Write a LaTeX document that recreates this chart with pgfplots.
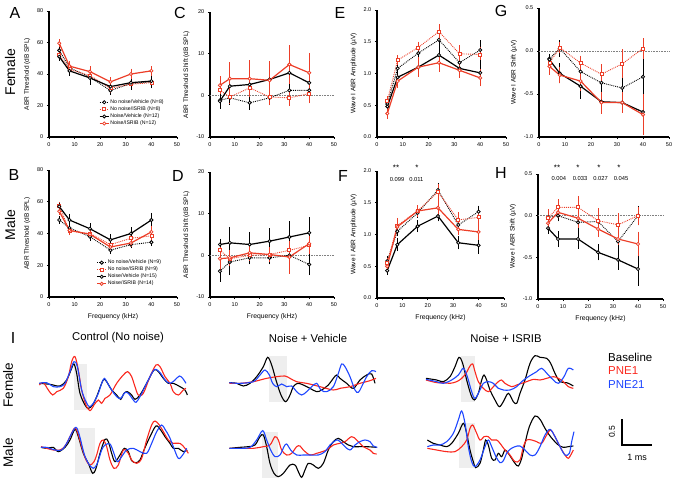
\documentclass[border=0pt]{standalone}
\usepackage{pgfplots}
\pgfplotsset{compat=1.18}
\usepackage{pgfplotstable}
\usepackage{fontspec}
\setmainfont{Liberation Sans}
\definecolor{cr}{RGB}{236,62,40}
\definecolor{tred}{RGB}{250,40,30}
\definecolor{tblue}{RGB}{30,70,255}

% columns: a = No noise/Vehicle, b = No noise/ISRIB, c = Noise/Vehicle, d = Noise/ISRIB (mean, SEM)
\pgfplotstableread{
f a ae b be c ce d de
4 55 2 52 2 51 1.5 59.5 1.5
8 44 2 43 2 42 2 45 2.5
16 38 2.5 39 2.5 37.5 3.5 41.5 2.5
24 29.5 2 31 2 32 2.5 35 2
32 34 3 33.5 2.5 34.5 3.5 40 2.5
40 35 3 34.5 2.5 35.5 3.5 42 2
}\tA
\pgfplotstableread{
f a ae b be c ce d de
4 48.5 1.5 57.5 1.5 57 1.5 54 1.5
8 43.5 1.5 41.5 1.5 48.5 3 42 1.5
16 38 1.5 40 1.5 43 2.5 39.5 1.5
24 29.5 1.5 33 1.5 36 2.5 31.5 1.5
32 33 1.5 37 2 40 3 34 1.5
40 34.5 1.5 38.5 2.5 48.5 3.5 41 3
}\tB
\pgfplotstableread{
f a ae b be c ce d de
4 -1.2 1.5 1.2 1.5 -1.4 1.5 2.4 1.8
8 -0.6 1.3 -0.4 1.3 2.2 3.8 4.0 3.6
16 -1.8 1.3 1.8 2.0 2.6 3.0 4.0 4.0
24 -0.6 1.4 -0.4 1.5 3.8 3.0 3.6 4.2
32 1.2 1.5 -0.6 1.5 5.4 3.0 7.4 4.3
40 1.2 1.3 0.4 2.0 3.0 2.5 5.4 4.4
}\tC
\pgfplotstableread{
f a ae b be c ce d de
4 -3.8 2.2 1.2 1.5 2.6 1.0 -0.8 2.5
8 -1.6 2.8 -0.8 1.5 3.0 3.5 -0.6 1.5
16 -0.6 1.2 0 1.0 2.6 2.7 0.6 1.4
24 -0.6 1.2 0.2 1.4 3.4 2.7 0.2 1.4
32 0.0 1.6 1.2 1.5 4.4 3.4 -0.4 3.6
40 -2.2 2.2 2.4 1.6 5.4 3.4 2.8 1.6
}\tD
\pgfplotstableread{
f a ae b be c ce d de
4 0.52 0.05 0.57 0.05 0.48 0.04 0.37 0.06
8 1.08 0.08 1.21 0.05 0.94 0.07 0.88 0.08
16 1.32 0.08 1.41 0.07 1.10 0.12 1.10 0.13
24 1.53 0.10 1.66 0.09 1.29 0.12 1.17 0.12
32 1.17 0.07 1.31 0.11 1.08 0.08 1.05 0.09
40 1.37 0.13 1.30 0.10 1.01 0.18 0.93 0.11
}\tE
\pgfplotstableread{
f a ae b be c ce d de
4 0.58 0.05 0.55 0.05 0.43 0.04 0.50 0.05
8 1.05 0.05 1.14 0.10 0.84 0.08 1.12 0.07
16 1.34 0.05 1.37 0.06 1.13 0.07 1.37 0.07
24 1.70 0.09 1.67 0.10 1.29 0.06 1.42 0.12
32 1.15 0.07 1.23 0.10 0.87 0.08 1.08 0.07
40 1.36 0.07 1.27 0.10 0.83 0.11 1.04 0.10
}\tF
\pgfplotstableread{
f a ae b be c ce d de
4 -0.09 0.04 -0.14 0.06 -0.10 0.04 -0.18 0.08
8 0.03 0.08 0.04 0.05 -0.26 0.10 -0.28 0.08
16 -0.24 0.10 -0.14 0.07 -0.41 0.13 -0.35 0.10
24 -0.37 0.10 -0.27 0.10 -0.59 0.12 -0.60 0.11
32 -0.43 0.15 -0.15 0.15 -0.60 0.09 -0.60 0.10
40 -0.30 0.20 0.03 0.10 -0.71 0.20 -0.74 0.22
}\tG
\pgfplotstableread{
f a ae b be c ce d de
4 -0.02 0.04 -0.03 0.09 -0.15 0.05 -0.09 0.06
8 0.00 0.05 0.10 0.08 -0.28 0.08 0.04 0.05
16 -0.08 0.10 0.10 0.12 -0.28 0.10 -0.03 0.10
24 -0.07 0.10 -0.06 0.13 -0.44 0.08 -0.16 0.08
32 -0.31 0.08 -0.11 0.12 -0.53 0.10 -0.28 0.06
40 0.00 0.10 0.00 0.09 -0.64 0.18 -0.34 0.13
}\tH

\pgfplotsset{
  errs/.style={error bars/.cd, y dir=both, y explicit,
    error bar style={solid, line width=0.7pt},
    error mark options={solid, mark size=1.5pt, line width=0.7pt}},
  nnveh/.style={black, densely dotted, line width=0.9pt, mark=*, mark size=1.6pt,
    mark options={solid, fill=white, draw=black, line width=0.8pt}, errs},
  nnisr/.style={cr, densely dotted, line width=0.9pt, mark=square*, mark size=1.5pt,
    mark options={solid, fill=white, draw=cr, line width=0.8pt}, errs},
  nveh/.style={black, solid, line width=1.2pt, mark=*, mark size=1.6pt,
    mark options={solid, fill=white, draw=black, line width=0.8pt}, errs},
  nisr/.style={cr, solid, line width=1.2pt, mark=*, mark size=1.6pt,
    mark options={solid, fill=white, draw=cr, line width=0.8pt}, errs},
  panel/.style={scale only axis, xmin=0, xmax=50, xtick={0,10,20,30,40,50},
    axis x line=bottom, axis y line=left,
    axis line style={line width=1.1pt, -},
    tick style={line width=0.8pt, black},
    tick align=outside, major tick length=2.2pt,
    x tick label style={font=\fontsize{5.5}{6}\selectfont},
    y tick label style={font=\fontsize{5.5}{6}\selectfont},
    ylabel style={font=\fontsize{6.5}{7}\selectfont},
    xlabel style={font=\fontsize{6.8}{7}\selectfont},
    /pgf/number format/assume math mode=true,
    clip=false,
    legend image code/.code={\draw[mark repeat=2,mark phase=2,##1] plot coordinates {(0cm,0cm) (0.16cm,0cm) (0.32cm,0cm)};},
  },
  leg/.style={legend style={at={#1}, anchor=north west, draw=none, fill=none,
    font=\fontsize{5.2}{5.5}\selectfont, inner sep=0pt, row sep=0pt,
    nodes={inner sep=0.9pt}, cells={anchor=west}}},
  tr/.style={scale only axis, hide axis, width=150pt, height=104pt,
    xmin=0, xmax=5, ymin=-1, ymax=1, clip=false},
}
\newcommand{\fourseries}[1]{%
  \addplot[nnveh] table[x=f,y=a,y error=ae]{#1};
  \addplot[nnisr] table[x=f,y=b,y error=be]{#1};
  \addplot[nveh] table[x=f,y=c,y error=ce]{#1};
  \addplot[nisr] table[x=f,y=d,y error=de]{#1};
}
% traces: digitised points (x0, y0 = start/baseline of trace in digitising grid; 90 units = 1 ms, 156 units = 1 uV)
\newcommand{\tr}[4]{\addplot[#1, line width=1.1pt, smooth, tension=0.55] table[row sep=\\, x expr=(\thisrowno{0}-#2)/90, y expr=(#3-\thisrowno{1})/156]{#4};}
\newcommand{\zeroline}{\addplot[gray, densely dotted, line width=0.6pt, forget plot] coordinates {(0,0) (50,0)};}

\begin{document}
\begin{tikzpicture}
\useasboundingbox (0,0) rectangle (685pt,493pt);

% ---------- A ----------
\begin{axis}[panel, at={(49pt,356pt)}, anchor=south west, width=128pt, height=126pt,
  ymin=0, ymax=80, ytick={0,20,40,60,80}, ylabel={ABR Threshold (dB SPL)},
  leg={(0.39,0.305)}]
\fourseries{\tA}
\legend{No noise/Vehicle (N=8), No noise/ISRIB (N=8), Noise/Vehicle (N=12), Noise/ISRIB (N=12)}
\end{axis}

% ---------- B ----------
\begin{axis}[panel, at={(49pt,196pt)}, anchor=south west, width=128pt, height=127pt,
  ymin=0, ymax=80, ytick={0,20,40,60,80}, ylabel={ABR Threshold (dB SPL)}, xlabel={Frequency (kHz)},
  leg={(0.37,0.30)}]
\fourseries{\tB}
\legend{No noise/Vehicle (N=9), No noise/ISRIB (N=9), Noise/Vehicle (N=15), Noise/ISRIB (N=14)}
\end{axis}

% ---------- C ----------
\begin{axis}[panel, at={(210pt,356pt)}, anchor=south west, width=124pt, height=125pt,
  ymin=-10, ymax=20, ytick={-10,0,10,20}, ylabel={ABR Threshold Shift (dB SPL)}]
\zeroline
\fourseries{\tC}
\end{axis}

% ---------- D ----------
\begin{axis}[panel, at={(210pt,196pt)}, anchor=south west, width=124pt, height=125pt,
  ymin=-10, ymax=20, ytick={-10,0,10,20}, ylabel={ABR Threshold Shift (dB SPL)}, xlabel={Frequency (kHz)}]
\zeroline
\fourseries{\tD}
\end{axis}

% ---------- E ----------
\begin{axis}[panel, at={(377pt,356pt)}, anchor=south west, width=129pt, height=127pt,
  ymin=0, ymax=2, ytick={0,0.5,1,1.5,2}, ylabel={Wave I ABR Amplitude (µV)},
  yticklabel style={/pgf/number format/.cd, fixed, fixed zerofill, precision=1}]
\fourseries{\tE}
\end{axis}

% ---------- F ----------
\begin{axis}[panel, at={(377pt,195pt)}, anchor=south west, width=127pt, height=127pt,
  ymin=0, ymax=2, ytick={0,0.5,1,1.5,2}, ylabel={Wave I ABR Amplitude (µV)}, xlabel={Frequency (kHz)},
  yticklabel style={/pgf/number format/.cd, fixed, fixed zerofill, precision=1}]
\fourseries{\tF}
\node[font=\fontsize{8}{8}\selectfont] at (axis cs:7.5,2.05) {**};
\node[font=\fontsize{8}{8}\selectfont] at (axis cs:15.7,2.05) {*};
\node[font=\fontsize{5.8}{6}\selectfont] at (axis cs:7.9,1.87) {0.099};
\node[font=\fontsize{5.8}{6}\selectfont] at (axis cs:15.5,1.87) {0.011};
\end{axis}

% ---------- G ----------
\begin{axis}[panel, at={(539pt,356pt)}, anchor=south west, width=130pt, height=129pt,
  ymin=-1, ymax=0.5, ytick={-1,-0.5,0,0.5}, ylabel={Wave I ABR Shift (µV)},
  yticklabel style={/pgf/number format/.cd, fixed, fixed zerofill, precision=1}]
\zeroline
\fourseries{\tG}
\end{axis}

% ---------- H ----------
\begin{axis}[panel, at={(538pt,194pt)}, anchor=south west, width=125pt, height=125pt,
  ymin=-1, ymax=0.5, ytick={-1,-0.5,0,0.5}, ylabel={Wave I ABR Shift (µV)}, xlabel={Frequency (kHz)},
  yticklabel style={/pgf/number format/.cd, fixed, fixed zerofill, precision=1}]
\zeroline
\fourseries{\tH}
\node[font=\fontsize{8}{8}\selectfont] at (axis cs:7.6,0.575) {**};
\node[font=\fontsize{8}{8}\selectfont] at (axis cs:16,0.575) {*};
\node[font=\fontsize{8}{8}\selectfont] at (axis cs:24.4,0.575) {*};
\node[font=\fontsize{8}{8}\selectfont] at (axis cs:32.4,0.575) {*};
\node[font=\fontsize{5.8}{6}\selectfont] at (axis cs:8.3,0.45) {0.004};
\node[font=\fontsize{5.8}{6}\selectfont] at (axis cs:16.8,0.45) {0.033};
\node[font=\fontsize{5.8}{6}\selectfont] at (axis cs:25,0.45) {0.027};
\node[font=\fontsize{5.8}{6}\selectfont] at (axis cs:33.2,0.45) {0.045};
\end{axis}

% ---------- I : traces ----------
% Control female
\begin{axis}[tr, at={(39.33pt,57.67pt)}, anchor=south west]
\addplot[fill=gray!13, draw=none] coordinates {(1.156,0.365) (1.6,0.365) (1.6,-0.513) (1.156,-0.513)} -- cycle;
\tr{black}{118}{130}{118 130\\150 133\\180 138\\200 120\\215 85\\222 72\\230 100\\240 160\\255 195\\265 205\\278 195\\290 170\\305 130\\312 118\\320 125\\335 150\\350 165\\362 178\\372 160\\382 155\\395 165\\405 178\\420 165\\440 130\\462 90\\475 95\\490 115\\505 130\\520 130\\540 140\\555 150\\562 165\\}
\tr{tred}{118}{130}{118 135\\130 128\\145 150\\158 165\\170 155\\190 145\\205 110\\215 65\\225 50\\235 90\\245 150\\258 195\\270 212\\282 195\\295 180\\305 190\\315 175\\330 165\\350 130\\370 105\\383 95\\395 110\\405 140\\415 165\\430 160\\450 110\\468 75\\480 80\\495 110\\510 130\\520 155\\535 165\\550 150\\558 145\\}
\tr{tblue}{118}{130}{118 130\\140 128\\160 140\\180 140\\195 130\\210 95\\222 65\\232 80\\245 150\\258 185\\268 200\\280 190\\295 160\\305 130\\313 115\\320 125\\335 150\\350 170\\362 175\\375 158\\385 160\\400 180\\408 187\\420 170\\440 130\\458 95\\468 88\\482 100\\495 120\\510 130\\525 120\\538 108\\548 115\\558 130\\}
\end{axis}

% Control male
\begin{axis}[tr, at={(41pt,-6.33pt)}, anchor=south west]
\addplot[fill=gray!13, draw=none] coordinates {(1.133,0.365) (1.8,0.365) (1.8,-0.513) (1.133,-0.513)} -- cycle;
\tr{black}{123}{322}{123 322\\140 325\\160 322\\175 335\\195 322\\210 300\\225 268\\235 290\\250 340\\265 370\\278 400\\288 385\\300 340\\315 298\\325 305\\335 340\\345 365\\360 345\\373 325\\385 335\\395 362\\408 368\\420 360\\432 330\\450 290\\468 258\\482 270\\495 290\\510 310\\520 325\\535 325\\550 335\\562 330\\}
\tr{tred}{123}{322}{123 320\\140 325\\160 330\\180 330\\195 318\\210 290\\223 265\\232 275\\245 320\\258 360\\270 375\\282 365\\290 345\\300 310\\310 300\\320 320\\330 360\\342 385\\355 375\\370 330\\385 340\\395 360\\410 370\\425 355\\440 300\\455 255\\465 243\\478 255\\493 280\\505 300\\520 310\\540 310\\555 325\\565 340\\}
\tr{tblue}{123}{322}{123 322\\140 322\\165 330\\185 330\\200 310\\215 280\\228 262\\238 285\\252 340\\265 370\\280 385\\292 370\\305 330\\315 315\\330 312\\340 335\\352 365\\365 350\\380 330\\400 325\\420 335\\440 340\\455 310\\470 275\\485 255\\495 268\\508 290\\520 320\\535 355\\548 345\\560 325\\}
\end{axis}

% Noise + Vehicle female
\begin{axis}[tr, at={(229.33pt,58.33pt)}, anchor=south west]
\addplot[fill=gray!13, draw=none] coordinates {(1.333,0.513) (1.911,0.513) (1.911,-0.365) (1.333,-0.365)} -- cycle;
\tr{black}{688}{128}{688 128\\710 130\\730 138\\750 130\\770 110\\790 80\\803 52\\815 75\\828 120\\843 165\\857 185\\870 165\\880 140\\893 130\\910 135\\930 145\\950 155\\965 150\\985 135\\1000 115\\1010 105\\1020 115\\1040 130\\1060 145\\1080 120\\1100 105\\1115 102\\1125 130\\}
\tr{tred}{688}{128}{688 130\\720 130\\760 125\\800 115\\830 110\\855 108\\870 115\\890 125\\920 130\\960 140\\1000 150\\1020 145\\1050 140\\1080 130\\1110 122\\1128 115\\}
\tr{tblue}{688}{128}{688 128\\720 130\\760 125\\780 105\\795 90\\808 105\\818 130\\830 140\\845 132\\860 140\\875 138\\890 155\\905 165\\920 155\\935 140\\950 130\\963 150\\980 155\\1000 140\\1015 100\\1025 72\\1035 80\\1050 110\\1065 150\\1075 157\\1085 140\\1100 110\\1115 92\\1128 95\\}
\end{axis}

% Noise + Vehicle male
\begin{axis}[tr, at={(229.33pt,-7.33pt)}, anchor=south west]
\addplot[fill=gray!13, draw=none] coordinates {(1.1,0.32) (1.611,0.32) (1.611,-0.577) (1.1,-0.577)} -- cycle;
\tr{black}{688}{325}{688 325\\720 322\\745 320\\765 315\\780 290\\790 285\\800 320\\810 370\\822 400\\835 410\\850 400\\870 375\\885 375\\895 395\\905 412\\915 390\\925 370\\940 375\\955 385\\970 370\\985 330\\1000 305\\1015 295\\1030 305\\1045 315\\1060 320\\1080 320\\1100 320\\1130 322\\}
\tr{tred}{688}{325}{688 325\\720 325\\760 325\\790 320\\810 315\\825 290\\835 300\\845 330\\860 345\\875 340\\890 320\\900 318\\910 330\\930 345\\950 340\\980 330\\1000 315\\1020 310\\1035 305\\1055 290\\1070 300\\1090 320\\1110 330\\1120 340\\1130 342\\}
\tr{tblue}{688}{325}{688 325\\720 325\\750 322\\770 300\\788 272\\800 300\\812 330\\825 350\\840 345\\852 320\\860 312\\872 330\\890 345\\910 345\\930 345\\955 345\\975 335\\990 315\\1010 300\\1020 305\\1035 320\\1050 330\\1065 315\\1080 305\\1095 300\\1110 305\\1120 318\\1132 322\\}
\end{axis}

% Noise + ISRIB female
\begin{axis}[tr, at={(426pt,62.67pt)}, anchor=south west]
\addplot[fill=gray!13, draw=none] coordinates {(1.156,0.43) (1.633,0.43) (1.633,-0.449) (1.156,-0.449)} -- cycle;
\tr{black}{258}{115}{258 115\\290 120\\310 125\\330 110\\345 80\\357 52\\368 70\\380 120\\393 165\\403 180\\415 160\\425 120\\432 105\\440 120\\450 150\\465 180\\478 200\\490 185\\505 160\\520 185\\530 190\\540 160\\555 120\\570 70\\585 47\\600 52\\620 55\\632 70\\645 100\\660 125\\680 128\\695 135\\700 138\\}
\tr{tred}{258}{115}{258 120\\290 128\\310 128\\330 130\\350 125\\365 115\\378 100\\390 78\\398 72\\405 95\\415 125\\430 145\\445 155\\460 140\\475 125\\485 120\\495 130\\515 140\\530 135\\545 130\\560 125\\580 118\\600 120\\620 115\\640 110\\655 115\\670 125\\685 140\\700 145\\}
\tr{tblue}{258}{115}{258 118\\290 125\\310 130\\335 120\\355 105\\370 85\\382 110\\395 155\\405 175\\420 150\\430 130\\445 125\\460 130\\475 145\\490 150\\510 150\\530 140\\545 125\\565 110\\590 95\\605 85\\625 105\\640 120\\655 130\\672 110\\685 85\\700 90\\}
\end{axis}

% Noise + ISRIB male
\begin{axis}[tr, at={(427.33pt,-2.33pt)}, anchor=south west]
\addplot[fill=gray!13, draw=none] coordinates {(1.067,0.397) (1.6,0.397) (1.6,-0.481) (1.067,-0.481)} -- cycle;
\tr{black}{262}{310}{262 300\\280 310\\300 315\\320 320\\335 310\\355 280\\370 250\\380 280\\390 330\\400 365\\407 383\\420 370\\430 330\\437 300\\445 315\\455 355\\465 360\\475 340\\485 350\\495 330\\505 340\\515 355\\525 370\\535 378\\545 355\\555 310\\568 260\\585 228\\600 238\\615 265\\628 285\\640 300\\655 315\\670 322\\685 320\\700 318\\}
\tr{tred}{262}{310}{262 325\\290 330\\320 335\\345 335\\365 320\\380 300\\390 265\\398 255\\408 275\\420 300\\432 290\\445 290\\455 300\\470 300\\480 310\\495 330\\510 345\\525 365\\540 360\\550 320\\560 300\\575 300\\590 305\\605 310\\620 285\\632 270\\645 290\\660 320\\675 345\\685 355\\695 340\\700 330\\}
\tr{tblue}{262}{310}{262 320\\280 315\\300 315\\320 305\\340 280\\355 240\\365 213\\375 250\\385 320\\395 365\\405 380\\420 360\\435 320\\445 300\\455 320\\468 350\\480 368\\490 362\\500 340\\510 328\\525 320\\540 318\\555 330\\570 345\\585 345\\600 320\\615 285\\630 268\\645 290\\660 320\\675 345\\688 340\\695 305\\702 275\\}
\end{axis}

% scale bar (0.5 uV, 1 ms)
\begin{axis}[tr, at={(622pt,-4pt)}, anchor=south west]
\addplot[black, line width=1.3pt] coordinates {(0,0.5) (0,0) (1,0)};
\end{axis}

% ---------- texts ----------
\node[font=\fontsize{16}{16}\selectfont] at (15pt,480pt) {A};
\node[font=\fontsize{16}{16}\selectfont] at (180pt,480pt) {C};
\node[font=\fontsize{16}{16}\selectfont] at (340pt,480pt) {E};
\node[font=\fontsize{16}{16}\selectfont] at (501pt,482pt) {G};
\node[font=\fontsize{16}{16}\selectfont] at (14pt,318pt) {B};
\node[font=\fontsize{16}{16}\selectfont] at (178pt,317pt) {D};
\node[font=\fontsize{16}{16}\selectfont] at (343pt,317pt) {F};
\node[font=\fontsize{16}{16}\selectfont] at (501pt,320pt) {H};
\node[font=\fontsize{16}{16}\selectfont] at (13pt,155pt) {I};
\node[font=\fontsize{14}{14}\selectfont, rotate=90] at (10pt,421pt) {Female};
\node[font=\fontsize{14}{14}\selectfont, rotate=90] at (10pt,268pt) {Male};
\node[font=\fontsize{13.5}{14}\selectfont, rotate=90] at (8pt,108pt) {Female};
\node[font=\fontsize{13.5}{14}\selectfont, rotate=90] at (8pt,40pt) {Male};
\node[font=\fontsize{11.3}{12}\selectfont] at (118pt,155pt) {Control (No noise)};
\node[font=\fontsize{11.3}{12}\selectfont] at (308pt,155pt) {Noise + Vehicle};
\node[font=\fontsize{11.3}{12}\selectfont] at (506pt,155pt) {Noise + ISRIB};
\node[font=\fontsize{11.5}{12}\selectfont, anchor=west, inner sep=0pt] at (608pt,136pt) {Baseline};
\node[font=\fontsize{11.5}{12}\selectfont, anchor=west, inner sep=0pt, text=tred] at (608pt,122pt) {PNE1};
\node[font=\fontsize{11.5}{12}\selectfont, anchor=west, inner sep=0pt, text=tblue] at (608pt,109pt) {PNE21};
\node[font=\fontsize{8.5}{9}\selectfont, rotate=90] at (612pt,61pt) {0.5};
\node[font=\fontsize{9}{9}\selectfont] at (637pt,36pt) {1 ms};
\end{tikzpicture}
\end{document}
